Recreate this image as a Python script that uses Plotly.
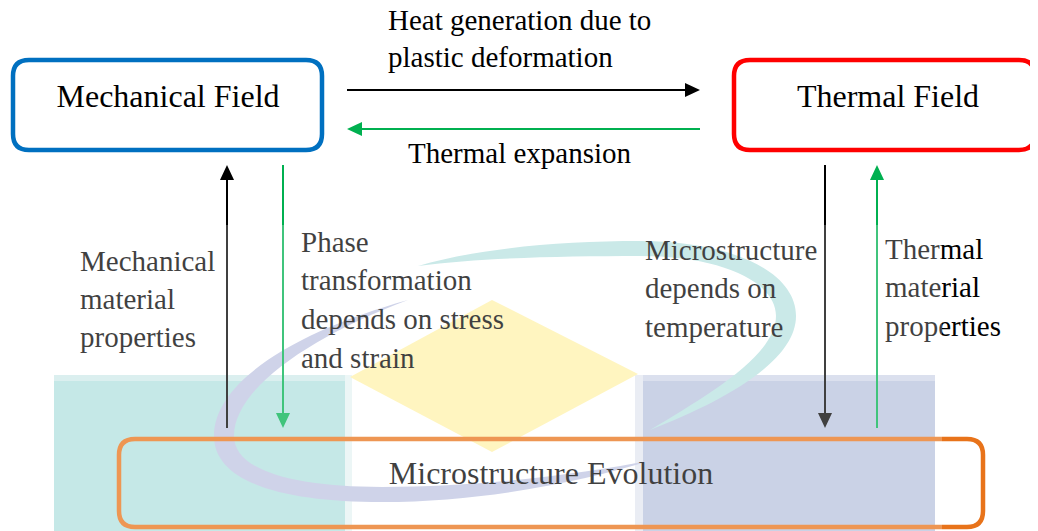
import plotly.graph_objects as go

# ---------------- data ----------------
node_labels = ["Mechanical Field", "Thermal Field", "Microstructure Evolution"]
node_colors = ["#0070C0", "#FF0000", "#E8731A"]
node_boxes = [(13, 60, 322, 150), (734, 60, 1035, 150), (119, 439, 983, 527)]
node_text_xy = [(168, 98.5), (888, 98.5), (551, 476)]

edge_label_lines = [
    ["Heat generation due to", "plastic deformation"],
    ["Thermal expansion"],
    ["Mechanical", "material", "properties"],
    ["Phase", "transformation", "depends on stress", "and strain"],
    ["Microstructure", "depends on", "temperature"],
    ["Thermal", "material", "properties"],
]
edge_label_left = [388, 408, 80, 301, 645, 885]
edge_label_first_y = [23, 156, 264, 244.5, 252.5, 251.5]
edge_label_step = [37, 0, 38, 38.7, 38.5, 38.5]

# arrows: tail (x0, y0) -> tip (x1, y1)
arrow_tails = [(347, 90), (700, 129), (227, 428), (283, 165), (825, 165), (877, 428)]
arrow_tips = [(700, 90), (347, 129), (227, 165), (283, 428), (825, 428), (877, 165)]
arrow_colors = ["#000000", "#00B050", "#000000", "#00B050", "#000000", "#00B050"]

W, H = 1038, 531
PAGE_OFFSET = 8  # default body margin of the html page
FONT = "Liberation Serif"


def rrect(x0, y0, x1, y1, r):
    return (f"M {x0+r} {y0} L {x1-r} {y0} Q {x1} {y0} {x1} {y0+r} "
            f"L {x1} {y1-r} Q {x1} {y1} {x1-r} {y1} L {x0+r} {y1} "
            f"Q {x0} {y1} {x0} {y1-r} L {x0} {y0+r} Q {x0} {y0} {x0+r} {y0} Z")


shapes = []

# ---------- background watermark (below) ----------
wm = [
    (54, 381, 345, 540, "#B2E0DF"),
    (54, 375, 345, 381, "#CFEAEA"),
    (345, 375, 352, 540, "#E6F3F3"),
    (643, 381, 935, 540, "#B8C3DE"),
    (643, 375, 935, 381, "#CFD6E8"),
    (635, 375, 643, 540, "#E3E7F1"),
]
for x0, y0, x1, y1, c in wm:
    shapes.append(dict(type="rect", x0=x0, y0=y0, x1=x1, y1=y1, xref="x", yref="y",
                       fillcolor=c, line=dict(width=0), layer="below"))
# yellow diamond
shapes.append(dict(type="path", path="M 492 300 L 638 374 L 492 452 L 350 377 Z",
                   fillcolor="#FFF2AB", line=dict(width=0), layer="below", xref="x", yref="y"))
# lavender swoosh (left/bottom)
shapes.append(dict(type="path",
                   path=("M 408 300 C 300 330, 214 380, 214 436 C 214 482, 282 502, 382 502 "
                         "C 482 502, 582 482, 652 460 C 582 474, 482 487, 382 487 "
                         "C 292 487, 234 470, 234 436 C 234 388, 312 336, 408 300 Z"),
                   fillcolor="#BFC5E2", line=dict(width=0), layer="below", xref="x", yref="y"))
# teal swoosh (top/right)
shapes.append(dict(type="path",
                   path=("M 418 266 C 480 248, 560 241, 640 241 C 732 241, 796 272, 796 316 "
                         "C 796 362, 722 402, 650 430 C 706 396, 776 356, 776 316 "
                         "C 776 282, 722 256, 640 256 C 560 256, 480 258, 418 266 Z"),
                   fillcolor="#B8E2E1", line=dict(width=0), layer="below", xref="x", yref="y"))

# ---------- node boxes ----------
for (x0, y0, x1, y1), c in zip(node_boxes, node_colors):
    shapes.append(dict(type="path", path=rrect(x0, y0, x1, y1, 16), xref="x", yref="y",
                       line=dict(color=c, width=4.5), fillcolor="rgba(0,0,0,0)", layer="below"))

# ---------- arrows ----------
HL, HW = 15, 7
for (tx, ty), (hx, hy), c in zip(arrow_tails, arrow_tips, arrow_colors):
    dx = (hx > tx) - (hx < tx)
    dy = (hy > ty) - (hy < ty)
    bx, by = hx - dx * HL, hy - dy * HL
    shapes.append(dict(type="line", x0=tx, y0=ty, x1=bx, y1=by, xref="x", yref="y",
                       line=dict(color=c, width=2), layer="below"))
    px, py = -dy * HW, dx * HW
    shapes.append(dict(type="path", xref="x", yref="y", layer="below",
                       path=f"M {hx} {hy} L {bx+px} {by+py} L {bx-px} {by-py} Z",
                       fillcolor=c, line=dict(width=0)))

# ---------- white veil over lower area (above) ----------
shapes.append(dict(type="rect", x0=0, y0=225, x1=942, y1=545, xref="x", yref="y",
                   fillcolor="rgba(255,255,255,0.25)", line=dict(width=0), layer="above"))

fig = go.Figure()

# node texts
fig.add_trace(go.Scatter(
    x=[p[0] for p in node_text_xy], y=[p[1] for p in node_text_xy],
    text=node_labels, mode="text", textposition="middle center",
    textfont=dict(family=FONT, size=32, color="#000000"), hoverinfo="skip", showlegend=False,
    cliponaxis=False))

# edge label texts
xs, ys, ts = [], [], []
for lines, lx, fy, st in zip(edge_label_lines, edge_label_left, edge_label_first_y, edge_label_step):
    for i, t in enumerate(lines):
        xs.append(lx)
        ys.append(fy + i * st)
        ts.append(t)
fig.add_trace(go.Scatter(
    x=xs, y=ys, text=ts, mode="text", textposition="middle right",
    textfont=dict(family=FONT, size=29, color="#000000"), hoverinfo="skip", showlegend=False,
    cliponaxis=False))

fig.update_layout(
    width=W, height=H, autosize=False,
    margin=dict(l=0, r=0, t=0, b=0),
    paper_bgcolor="white", plot_bgcolor="white",
    font=dict(family=FONT),
    shapes=shapes,
    xaxis=dict(range=[PAGE_OFFSET, W + PAGE_OFFSET], visible=False, fixedrange=True),
    yaxis=dict(range=[H + PAGE_OFFSET, PAGE_OFFSET], visible=False, fixedrange=True),
)

fig.write_html("out.html")
